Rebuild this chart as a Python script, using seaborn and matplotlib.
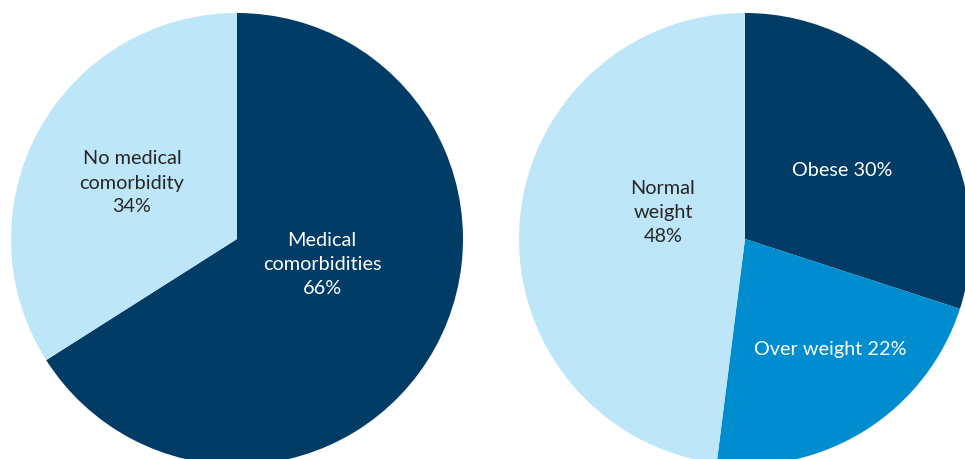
import matplotlib
matplotlib.use("Agg")
import matplotlib.pyplot as plt
import seaborn as sns

# data
comorb_labels = ["Medical\ncomorbidities\n66%", "No medical\ncomorbidity\n34%"]
comorb_values = [66, 34]
weight_labels = ["Obese 30%", "Over weight 22%", "Normal\nweight\n48%"]
weight_values = [30, 22, 48]

NAVY = "#003c66"
MID = "#008dd0"
LIGHT = "#bde6f8"

sns.set_theme(style="white")
plt.rcParams["font.family"] = ["Lato", "DejaVu Sans"]

fig = plt.figure(figsize=(9.65, 4.6), dpi=100)
ax = fig.add_axes([0, 0, 1, 1])

R = 226
left_c = (237, 220)
right_c = (745, 220)

ax.pie(comorb_values, colors=[NAVY, LIGHT], startangle=90, counterclock=False,
       center=left_c, radius=R, wedgeprops={"linewidth": 0})
ax.pie(weight_values, colors=[NAVY, MID, LIGHT], startangle=90, counterclock=False,
       center=right_c, radius=R, wedgeprops={"linewidth": 0})

ax.set_xlim(0, 965)
ax.set_ylim(0, 460)
ax.set_aspect("auto")
ax.axis("off")

# labels, offsets relative to the pie centre (pixels, y up)
txt = dict(ha="center", va="center", fontsize=14.3, linespacing=1.5)
ax.text(left_c[0] + 85, left_c[1] - 25, comorb_labels[0], color="white", **txt)
ax.text(left_c[0] - 105, left_c[1] + 57, comorb_labels[1], color="#262626", **txt)
ax.text(right_c[0] + 97, right_c[1] + 70, weight_labels[0], color="white", **txt)
ax.text(right_c[0] + 85, right_c[1] - 110, weight_labels[1], color="white", **txt)
ax.text(right_c[0] - 82, right_c[1] + 27, weight_labels[2], color="#262626", **txt)

fig.savefig("out.png", dpi=100)
